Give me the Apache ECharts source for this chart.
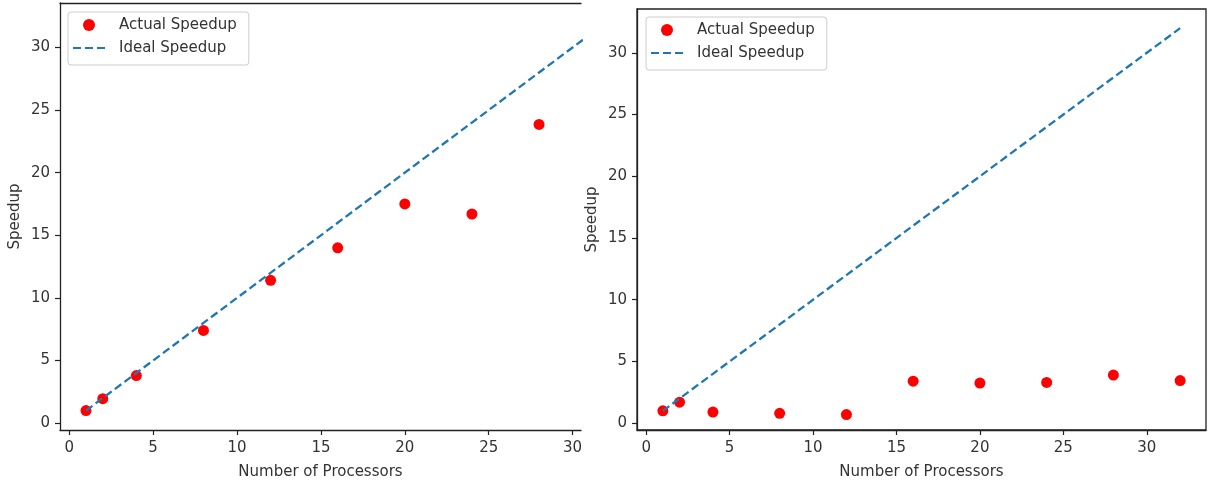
<!DOCTYPE html>
<html>
<head>
<meta charset="utf-8">
<script src="https://cdn.jsdelivr.net/npm/echarts@6/dist/echarts.min.js"></script>
<style>
  html, body { margin: 0; padding: 0; background: #fff; }
  #chart { width: 1209px; height: 485px; }
</style>
</head>
<body>
<div id="chart"></div>
<script>
// data
var procsLeft = [1, 2, 4, 8, 12, 16, 20, 24, 28];
var actualLeft = [1.0, 1.95, 3.8, 7.4, 11.4, 14.0, 17.5, 16.7, 23.85];

var procsRight = [1, 2, 4, 8, 12, 16, 20, 24, 28, 32];
var actualRight = [1.0, 1.7, 0.9, 0.8, 0.7, 3.4, 3.25, 3.3, 3.9, 3.45];

var idealProcs = [1, 2, 4, 8, 12, 16, 20, 24, 28, 32];
var idealSpeedup = [1, 2, 4, 8, 12, 16, 20, 24, 28, 32];

var tickValues = [0, 5, 10, 15, 20, 25, 30];

var RED = '#ff0000';
var BLUE = '#1f77b4';
var FONT = 'DejaVu Sans';
// three short dashes, used as the legend icon of the ideal line
var DASH_ICON = 'path://M0,0H8V2.2H0Z M12,0H20V2.2H12Z M24,0H32V2.2H24Z';

function pairs(xs, ys) {
  return xs.map(function (x, i) { return [x, ys[i]]; });
}

var chartDom = document.getElementById('chart');
var myChart = echarts.init(chartDom);
var option;

var axisLine = { show: true, onZero: false, lineStyle: { color: '#222', width: 1.3 } };
var axisTick = { show: true, length: 5, lineStyle: { color: '#222', width: 1.2 }, customValues: tickValues };
var labelStyle = { color: '#333', fontFamily: FONT, fontSize: 15 };

function xAxisFor(idx, max) {
  return {
    type: 'value', gridIndex: idx, min: -0.55, max: max,
    name: 'Number of Processors', nameLocation: 'middle', nameGap: 35,
    nameTextStyle: { color: '#333', fontFamily: FONT, fontSize: 15 },
    axisLine: axisLine, axisTick: axisTick,
    axisLabel: Object.assign({ margin: 11, customValues: tickValues }, labelStyle),
    splitLine: { show: false }
  };
}
function yAxisFor(idx) {
  return {
    type: 'value', gridIndex: idx, min: -0.55, max: 33.55,
    name: 'Speedup', nameLocation: 'middle', nameGap: 37,
    nameTextStyle: { color: '#333', fontFamily: FONT, fontSize: 15 },
    axisLine: axisLine, axisTick: axisTick,
    axisLabel: Object.assign({ margin: 10, customValues: tickValues }, labelStyle),
    splitLine: { show: false }
  };
}
function legendFor(left, top) {
  return {
    left: left, top: top, orient: 'vertical',
    data: [
      { name: 'Actual Speedup', icon: 'circle' },
      { name: 'Ideal Speedup', icon: DASH_ICON }
    ],
    itemWidth: 32, itemHeight: 12, itemGap: 7,
    padding: [5, 12, 9, 5],
    borderColor: '#cccccc', borderWidth: 1, borderRadius: 3,
    backgroundColor: '#fff',
    textStyle: { color: '#333', fontFamily: FONT, fontSize: 15, lineHeight: 16, padding: [0, 0, 0, 9] },
    selectedMode: false
  };
}

option = {
  animation: false,
  backgroundColor: '#fff',
  grid: [
    { left: 60, top: 3, width: 521, height: 427 },
    { left: 637, top: 9, width: 569, height: 421, show: true, borderColor: '#222', borderWidth: 1.3 }
  ],
  legend: [legendFor(68, 12), legendFor(646, 17)],
  xAxis: [
    xAxisFor(0, 30.5),
    xAxisFor(1, 33.55),
    // top spine of the left panel (right side is cropped in the original)
    { type: 'value', gridIndex: 0, position: 'top', min: -0.55, max: 30.5,
      axisLine: axisLine, axisTick: { show: false }, axisLabel: { show: false }, splitLine: { show: false } }
  ],
  yAxis: [yAxisFor(0), yAxisFor(1)],
  series: [
    {
      name: 'Ideal Speedup', type: 'line', xAxisIndex: 0, yAxisIndex: 0,
      data: pairs(idealProcs, idealSpeedup), symbol: 'none', clip: true,
      lineStyle: { color: BLUE, width: 2.3, type: [8, 4] }, itemStyle: { color: BLUE }
    },
    {
      name: 'Actual Speedup', type: 'scatter', xAxisIndex: 0, yAxisIndex: 0,
      data: pairs(procsLeft, actualLeft), symbolSize: 11, itemStyle: { color: RED, opacity: 1 }
    },
    {
      name: 'Ideal Speedup', type: 'line', xAxisIndex: 1, yAxisIndex: 1,
      data: pairs(idealProcs, idealSpeedup), symbol: 'none',
      lineStyle: { color: BLUE, width: 2.3, type: [8, 4] }, itemStyle: { color: BLUE }
    },
    {
      name: 'Actual Speedup', type: 'scatter', xAxisIndex: 1, yAxisIndex: 1,
      data: pairs(procsRight, actualRight), symbolSize: 11, itemStyle: { color: RED, opacity: 1 }
    }
  ]
};

if (option && typeof option === 'object') {
  myChart.setOption(option);
}

window.onresize = function () {
  myChart.resize();
};
</script>
</body>
</html>
